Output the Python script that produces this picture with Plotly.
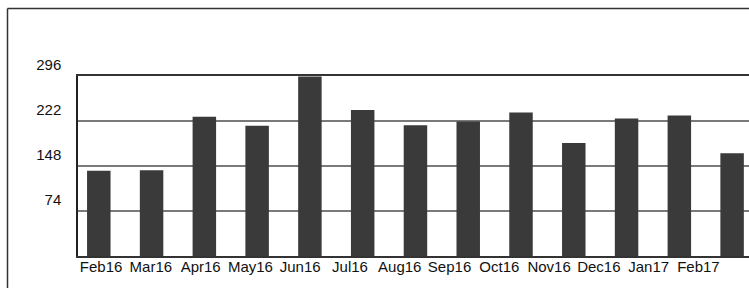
import plotly.graph_objects as go

months = ["Feb16", "Mar16", "Apr16", "May16", "Jun16", "Jul16", "Aug16",
          "Sep16", "Oct16", "Nov16", "Dec16", "Jan17", "Feb17"]
values = [140, 141, 229, 214, 295, 240, 215, 221, 236, 186, 226, 231, 169]
y_ticks = [74, 148, 222, 296]

W, H = 749, 288
ML, MR, MT, MB = 78, 0, 76, 32
PW, PH = W - ML - MR, H - MT - MB

# bar slots on a linear axis (one unit per month)
slots = list(range(len(months)))
# in the scanned original the month labels run on a slightly tighter pitch
# than the bars (label pitch ~49.8 px vs bar pitch ~52.8 px)
BAR_PITCH, LABEL_PITCH, LABEL_OFFSET = 52.8, 49.8, 2.3
label_slots = [(LABEL_OFFSET + LABEL_PITCH * i) / BAR_PITCH for i in slots]

fig = go.Figure()
fig.add_trace(go.Bar(x=slots, y=values, customdata=months,
                     marker=dict(color="#3a3a3a", line=dict(width=0)),
                     hovertemplate="%{customdata}: %{y}<extra></extra>"))

font = dict(family="Liberation Sans, Arial, sans-serif", size=15, color="#111")

fig.update_layout(
    width=W, height=H,
    margin=dict(l=ML, r=MR, t=MT, b=MB, pad=0),
    paper_bgcolor="white", plot_bgcolor="white",
    showlegend=False,
    bargap=0.555,
    font=font,
    xaxis=dict(type="linear", range=[-0.394, 12.32],
               tickmode="array", tickvals=label_slots, ticktext=months,
               tickfont=font, tickangle=0, ticks="", ticklabelstandoff=-4,
               showgrid=False, zeroline=False,
               showline=True, linecolor="#333", linewidth=1.5, mirror=True),
    yaxis=dict(range=[0, 296], tickvals=y_ticks, ticktext=[str(v) for v in y_ticks],
               showgrid=True, gridcolor="#7a7a7a", gridwidth=1.5,
               showline=True, linecolor="#222", linewidth=1.5, mirror=False,
               zeroline=False, ticks="", tickfont=font,
               ticklabelshift=-11, ticklabelstandoff=12),
)

# outer frame of the scanned figure (left and top edges)
fx0 = (7.5 - ML) / PW
fy_top = (H - 8.5 - MB) / PH
fig.add_shape(type="line", xref="paper", yref="paper", x0=fx0, x1=fx0,
              y0=(0 - MB) / PH, y1=fy_top, line=dict(color="#333", width=1.5))
fig.add_shape(type="line", xref="paper", yref="paper", x0=fx0, x1=1,
              y0=fy_top, y1=fy_top, line=dict(color="#333", width=1.5))

fig.write_html("out.html", config={"displayModeBar": False},
               post_script="document.body.style.margin='0';document.body.style.overflow='hidden';")
